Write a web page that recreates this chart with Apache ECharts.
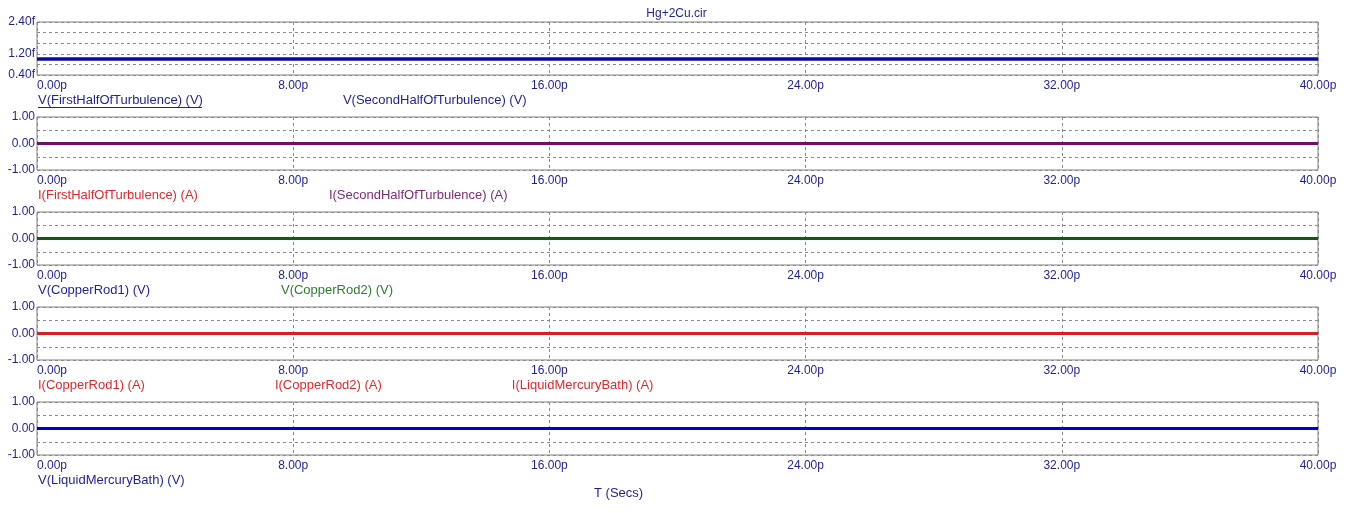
<!DOCTYPE html>
<html>
<head>
<meta charset="utf-8">
<title>Hg+2Cu.cir</title>
<script src="https://cdn.jsdelivr.net/npm/echarts@6/dist/echarts.min.js"></script>
<style>
html,body{margin:0;padding:0;background:#fff;}
#main{width:1353px;height:513px;}
</style>
</head>
<body>
<div id="main"></div>
<script>
// time axis, in ps
var timePs = [0, 8, 16, 24, 32, 40];
var timeTicks = [0, 8, 16, 24, 32, 40];

// panel 1 (fV)
var vFirstHalf = [1.0, 1.0, 1.0, 1.0, 1.0, 1.0];
var vSecondHalf = [1.0, 1.0, 1.0, 1.0, 1.0, 1.0];
// panel 2 (A)
var iFirstHalf = [0, 0, 0, 0, 0, 0];
var iSecondHalf = [0, 0, 0, 0, 0, 0];
// panel 3 (V)
var vCopperRod1 = [0, 0, 0, 0, 0, 0];
var vCopperRod2 = [0, 0, 0, 0, 0, 0];
// panel 4 (A)
var iCopperRod1 = [0, 0, 0, 0, 0, 0];
var iCopperRod2 = [0, 0, 0, 0, 0, 0];
var iMercuryBath = [0, 0, 0, 0, 0, 0];
// panel 5 (V)
var vMercuryBath = [0, 0, 0, 0, 0, 0];

var yLabels1 = [0.4, 1.2, 2.4];
var yLabelsUnit = [-1, 0, 1];

var NAVY = '#1f1f96';
var FONT = '"Liberation Sans", Arial, sans-serif';

var panels = [
	{ min: 0.4, max: 2.4, step: 0.4, labels: yLabels1, suffix: 'f', gap: 135, series: [
		{ name: 'V(FirstHalfOfTurbulence) (V)', data: vFirstHalf, line: '#0a0aa0', text: NAVY },
		{ name: 'V(SecondHalfOfTurbulence) (V)', data: vSecondHalf, line: '#0a0aa0', text: NAVY }
	]},
	{ min: -1, max: 1, step: 0.5, labels: yLabelsUnit, suffix: '', gap: 126, series: [
		{ name: 'I(FirstHalfOfTurbulence) (A)', data: iFirstHalf, line: '#d42020', text: '#e0282c' },
		{ name: 'I(SecondHalfOfTurbulence) (A)', data: iSecondHalf, line: '#780c6e', text: '#7d2a78' }
	]},
	{ min: -1, max: 1, step: 0.5, labels: yLabelsUnit, suffix: '', gap: 126, series: [
		{ name: 'V(CopperRod1) (V)', data: vCopperRod1, line: '#0000c0', text: NAVY },
		{ name: 'V(CopperRod2) (V)', data: vCopperRod2, line: '#0b5e0b', text: '#2e7d2e' }
	]},
	{ min: -1, max: 1, step: 0.5, labels: yLabelsUnit, suffix: '', gap: 125, series: [
		{ name: 'I(CopperRod1) (A)', data: iCopperRod1, line: '#d42020', text: '#e0282c' },
		{ name: 'I(CopperRod2) (A)', data: iCopperRod2, line: '#d42020', text: '#e0282c' },
		{ name: 'I(LiquidMercuryBath) (A)', data: iMercuryBath, line: '#d42020', text: '#e0282c' }
	]},
	{ min: -1, max: 1, step: 0.5, labels: yLabelsUnit, suffix: '', gap: 126, series: [
		{ name: 'V(LiquidMercuryBath) (V)', data: vMercuryBath, line: '#0000cc', text: NAVY }
	]}
];

var grids = [], xAxes = [], yAxes = [], series = [], legends = [];

panels.forEach(function (p, k) {
	var top = 22 + 95 * k;
	grids.push({
		left: 37, right: 35, top: top, height: 53,
		show: true, borderColor: '#808080', borderWidth: 1, backgroundColor: '#fff'
	});
	xAxes.push({
		type: 'value', gridIndex: k, min: 0, max: 40, interval: 8,
		axisLine: { show: false }, axisTick: { show: false },
		splitLine: { show: true, lineStyle: { color: '#8a8a8a', type: [3, 3], width: 1 } },
		axisLabel: {
			color: NAVY, fontFamily: FONT, fontSize: 12, margin: 5,
			alignMinLabel: 'left',
			customValues: timeTicks,
			formatter: function (v) { return v.toFixed(2) + 'p'; }
		}
	});
	yAxes.push({
		type: 'value', gridIndex: k, min: p.min, max: p.max, interval: p.step,
		axisLine: { show: false }, axisTick: { show: false },
		splitLine: { show: true, lineStyle: { color: '#8a8a8a', type: [3, 3], width: 1 } },
		axisLabel: {
			color: NAVY, fontFamily: FONT, fontSize: 12, margin: 2,
			showMinLabel: true, showMaxLabel: true,
			formatter: function (v) {
				for (var i = 0; i < p.labels.length; i++) {
					if (Math.abs(v - p.labels[i]) < 1e-9) return p.labels[i].toFixed(2) + p.suffix;
				}
				return '';
			}
		}
	});
	var legendData = [];
	p.series.forEach(function (s) {
		series.push({
			name: s.name, type: 'line', xAxisIndex: k, yAxisIndex: k,
			data: timePs.map(function (t, i) { return [t, s.data[i]]; }),
			showSymbol: false, symbol: 'none',
			lineStyle: { color: s.line, width: 3 },
			itemStyle: { color: s.line },
			animation: false
		});
		legendData.push({ name: s.name, icon: 'none', textStyle: { color: s.text } });
	});
	legends.push({
		data: legendData, left: 33, top: top + 72, padding: 0,
		itemWidth: 0, itemHeight: 0, itemGap: p.gap, selectedMode: false,
		textStyle: { fontFamily: FONT, fontSize: 13 }
	});
});

var myChart = echarts.init(document.getElementById('main'));

var option = {
	backgroundColor: '#fff',
	animation: false,
	title: {
		text: 'Hg+2Cu.cir', left: 'center', top: 8, padding: 0,
		textStyle: { color: NAVY, fontFamily: FONT, fontSize: 12, fontWeight: 'normal' }
	},
	grid: grids,
	xAxis: xAxes,
	yAxis: yAxes,
	legend: legends,
	series: series,
	graphic: [
		{ type: 'text', left: 594, top: 487,
		  style: { text: 'T (Secs)', fill: NAVY, font: '13px ' + FONT } },
		// underline under the selected trace name
		{ type: 'line', shape: { x1: 38, y1: 107.5, x2: 202, y2: 107.5 },
		  style: { stroke: NAVY, lineWidth: 1 } }
	]
};
myChart.setOption(option);
</script>
</body>
</html>
